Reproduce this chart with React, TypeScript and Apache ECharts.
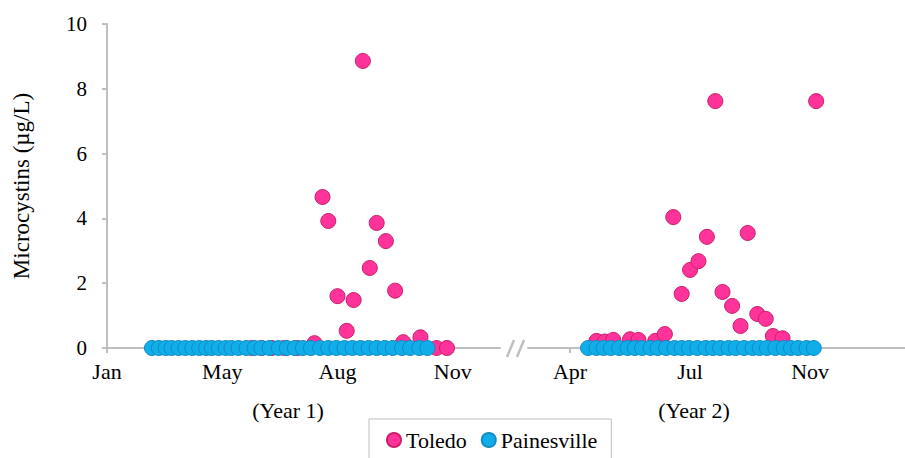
import React, { useEffect, useRef } from "react";
import * as echarts from "echarts";

// ---- Data (x = days along each panel's axis, y = microcystins µg/L) ----
const yearOneTickDays = [0, 100, 200, 300];
const yearOneTickLabels = ["Jan", "May", "Aug", "Nov"];
const yearTwoTickDays = [35, 135, 235];
const yearTwoTickLabels = ["Apr", "Jul", "Nov"];
const panelCaptions = ["(Year 1)", "(Year 2)"];

const toledoYear1Days = [126, 134, 143, 154, 165, 180, 187, 192, 200, 208, 214, 222, 228, 234, 242, 250, 257, 272, 286, 295];
const toledoYear1Values = [0, 0, 0, 0, 0, 0.15, 4.66, 3.92, 1.6, 0.53, 1.48, 8.86, 2.47, 3.86, 3.3, 1.77, 0.18, 0.33, 0, 0];

const toledoYear2Days = [57, 64, 71, 85, 92, 106, 114, 121, 128, 135, 142, 149, 156, 162, 170, 177, 183, 191, 198, 204, 212, 240];
const toledoYear2Values = [0.22, 0.2, 0.25, 0.27, 0.25, 0.22, 0.43, 4.04, 1.67, 2.41, 2.68, 3.43, 7.62, 1.73, 1.3, 0.68, 3.55, 1.05, 0.9, 0.37, 0.3, 7.62];

const painesvilleYear1Days = [39, 45, 51, 56, 62, 68, 74, 80, 86, 91, 97, 103, 108, 114, 121, 128, 134, 141, 149, 156, 163, 170, 177, 185, 192, 199, 206, 213, 220, 227, 234, 241, 248, 256, 263, 271, 278];
const painesvilleYear1Values = [0, 0, 0, 0, 0, 0, 0, 0, 0, 0, 0, 0, 0, 0, 0, 0, 0, 0, 0, 0, 0, 0, 0, 0, 0, 0, 0, 0, 0, 0, 0, 0, 0, 0, 0, 0, 0];

const painesvilleYear2Days = [50, 57, 63, 69, 76, 83, 89, 95, 102, 108, 115, 122, 128, 134, 141, 148, 154, 160, 167, 173, 180, 187, 193, 199, 206, 213, 219, 225, 232, 238];
const painesvilleYear2Values = [0, 0, 0, 0, 0, 0, 0, 0, 0, 0, 0, 0, 0, 0, 0, 0, 0, 0, 0, 0, 0, 0, 0, 0, 0, 0, 0, 0, 0, 0];

const yTicks = { min: 0, max: 10, interval: 2 };

const FONT = "'Liberation Serif', 'Times New Roman', serif";
const AXIS_GRAY = "#BFBFBF";
const PINK = "#FF3399";
const PINK_BORDER = "#C8206A";
const BLUE = "#0FAEEA";
const BLUE_BORDER = "#1689C2";

const pairs = (xs: number[], ys: number[]) => xs.map((x, i) => [x, ys[i]]);

export default function App() {
  const ref = useRef<HTMLDivElement>(null);

  useEffect(() => {
    if (!ref.current) return;
    const chart = echarts.init(ref.current, undefined, { renderer: "svg" });

    const tickStyle = { show: true, inside: false, length: 5, lineStyle: { color: AXIS_GRAY, width: 2 } };
    const xAxisCommon = {
      type: "value" as const,
      axisLine: { show: true, onZero: true, lineStyle: { color: AXIS_GRAY, width: 2 } },
      splitLine: { show: false },
    };

    const labelStyle = { fontFamily: FONT, fontSize: 22, color: "#000" };

    const marker = (color: string, border: string) => ({
      color,
      borderColor: border,
      borderWidth: 1,
      opacity: 1,
    });

    chart.setOption({
      animation: false,
      backgroundColor: "#fff",
      textStyle: { fontFamily: FONT },
      grid: [
        { left: 107, top: 24, width: 393, height: 324 },
        { left: 528, top: 24, width: 377, height: 324 },
      ],
      xAxis: [
        {
          ...xAxisCommon,
          gridIndex: 0,
          min: 0,
          max: 341,
          axisTick: { ...tickStyle, customValues: yearOneTickDays },
          axisLabel: {
            ...labelStyle,
            margin: 12,
            customValues: yearOneTickDays,
            formatter: (v: number) => yearOneTickLabels[yearOneTickDays.indexOf(Math.round(v))] ?? "",
          },
        },
        {
          ...xAxisCommon,
          gridIndex: 1,
          min: 0,
          max: 314,
          axisTick: { ...tickStyle, customValues: yearTwoTickDays },
          axisLabel: {
            ...labelStyle,
            margin: 12,
            customValues: yearTwoTickDays,
            formatter: (v: number) => yearTwoTickLabels[yearTwoTickDays.indexOf(Math.round(v))] ?? "",
          },
        },
      ],
      yAxis: [
        {
          type: "value",
          gridIndex: 0,
          min: yTicks.min,
          max: yTicks.max,
          interval: yTicks.interval,
          name: "Microcystins (µg/L)",
          nameLocation: "middle",
          nameGap: 74,
          nameTextStyle: { fontFamily: FONT, fontSize: 23, color: "#000" },
          axisLine: { show: true, lineStyle: { color: AXIS_GRAY, width: 2 } },
          axisTick: tickStyle,
          axisLabel: { ...labelStyle, fontSize: 21, margin: 20 },
          splitLine: { show: false },
        },
        {
          type: "value",
          gridIndex: 1,
          min: yTicks.min,
          max: yTicks.max,
          interval: yTicks.interval,
          show: false,
          splitLine: { show: false },
        },
      ],
      legend: {
        data: ["Toledo", "Painesville"],
        left: 369,
        top: 419,
        orient: "horizontal",
        icon: "circle",
        itemWidth: 14,
        itemHeight: 14,
        itemGap: 14,
        padding: [10, 14, 12, 17],
        borderColor: AXIS_GRAY,
        borderWidth: 1,
        textStyle: { fontFamily: FONT, fontSize: 22, color: "#000" },
      },
      graphic: [
        {
          type: "text",
          x: 288,
          y: 410,
          style: { text: panelCaptions[0], font: `22px ${FONT}`, fill: "#000", textAlign: "center", textVerticalAlign: "middle" },
        },
        {
          type: "text",
          x: 694,
          y: 410,
          style: { text: panelCaptions[1], font: `22px ${FONT}`, fill: "#000", textAlign: "center", textVerticalAlign: "middle" },
        },
        {
          type: "line",
          shape: { x1: 507, y1: 357, x2: 514, y2: 340 },
          style: { stroke: AXIS_GRAY, lineWidth: 2.5 },
        },
        {
          type: "line",
          shape: { x1: 517, y1: 357, x2: 524, y2: 340 },
          style: { stroke: AXIS_GRAY, lineWidth: 2.5 },
        },
      ],
      series: [
        {
          name: "Toledo",
          type: "scatter",
          xAxisIndex: 0,
          yAxisIndex: 0,
          symbol: "circle",
          symbolSize: 15,
          clip: false,
          itemStyle: marker(PINK, PINK_BORDER),
          data: pairs(toledoYear1Days, toledoYear1Values),
        },
        {
          name: "Toledo",
          type: "scatter",
          xAxisIndex: 1,
          yAxisIndex: 1,
          symbol: "circle",
          symbolSize: 15,
          clip: false,
          itemStyle: marker(PINK, PINK_BORDER),
          data: pairs(toledoYear2Days, toledoYear2Values),
        },
        {
          name: "Painesville",
          type: "scatter",
          xAxisIndex: 0,
          yAxisIndex: 0,
          symbol: "circle",
          symbolSize: 15,
          clip: false,
          itemStyle: marker(BLUE, BLUE_BORDER),
          data: pairs(painesvilleYear1Days, painesvilleYear1Values),
        },
        {
          name: "Painesville",
          type: "scatter",
          xAxisIndex: 1,
          yAxisIndex: 1,
          symbol: "circle",
          symbolSize: 15,
          clip: false,
          itemStyle: marker(BLUE, BLUE_BORDER),
          data: pairs(painesvilleYear2Days, painesvilleYear2Values),
        },
      ],
    });

    return () => chart.dispose();
  }, []);

  return (
    <div
      ref={ref}
      style={{ position: "fixed", left: 0, top: 0, width: 905, height: 458 }}
    />
  );
}
